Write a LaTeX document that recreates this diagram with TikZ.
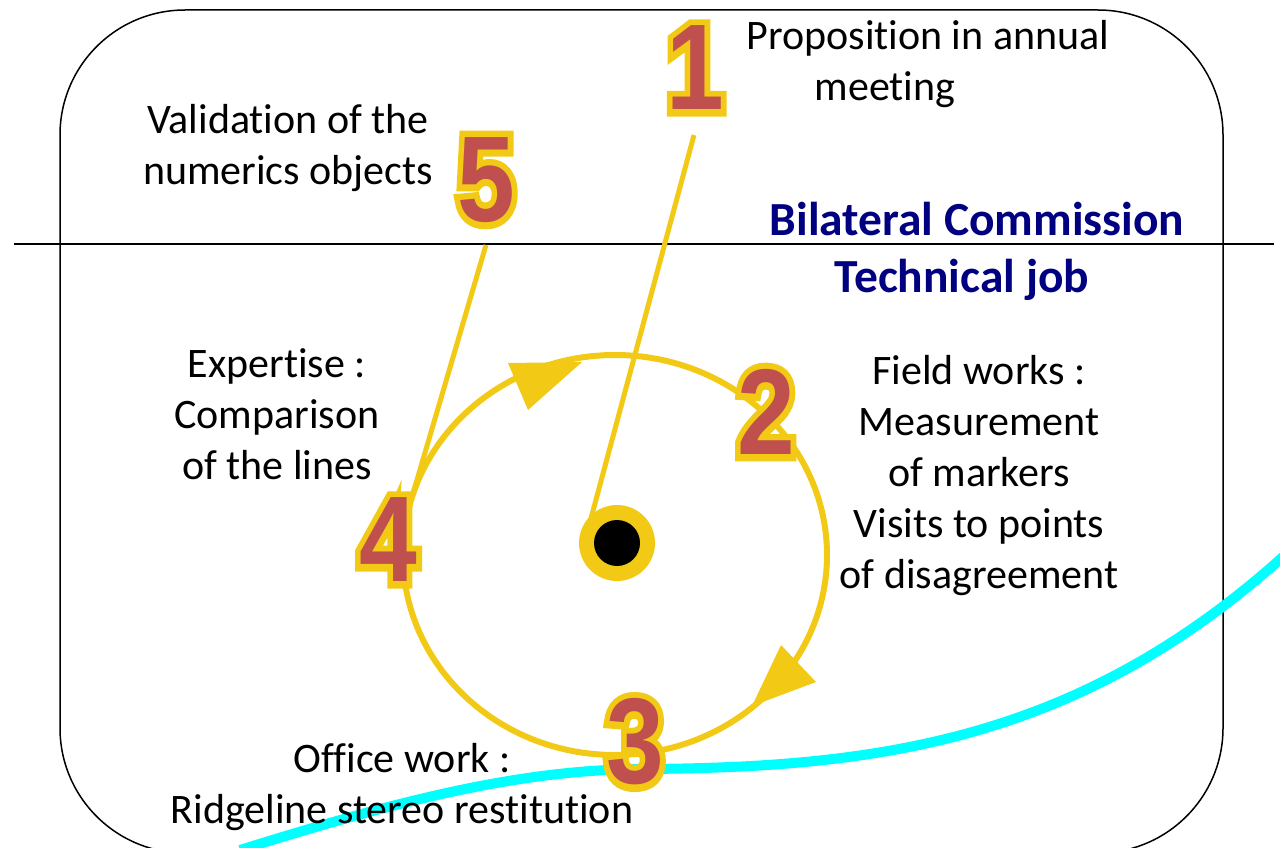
\documentclass[tikz,border=0pt]{standalone}
\usepackage{fontspec}
\setmainfont{Carlito}[Ligatures=NoCommon]
\newfontfamily\numfont{Liberation Sans Bold}
\newfontfamily\numoutline{Liberation Sans Bold}[FakeBold=11]
\usetikzlibrary{arrows.meta}
\definecolor{ylw}{RGB}{242,202,22}
\definecolor{numred}{RGB}{192,80,77}
\definecolor{navyblue}{RGB}{0,0,128}
\definecolor{cyanline}{RGB}{0,255,255}
\newcommand\bignum[3]{%
  \node[numtxt,font=\numoutline\fontsize{122}{122}\selectfont,text=ylw] (#1o) at (#2) {#3};
  \node[numtxt,text=numred] (#1) at (#2) {#3};
}
\begin{document}
\begin{tikzpicture}[x=1pt,y=-1pt,
  lbl/.style={font=\fontsize{42}{51}\selectfont, align=center, inner sep=0pt},
  hdr/.style={font=\fontsize{47.5}{52}\selectfont\bfseries, text=navyblue, inner sep=0pt},
  numtxt/.style={font=\numfont\fontsize{122}{122}\selectfont, inner sep=0pt, xscale=0.85},
  yl/.style={draw=ylw, line width=5pt}]
\useasboundingbox (0,0) rectangle (1280,848);
\begin{scope}
  \clip (0,0) rectangle (1280,848);
  \draw[line width=1.5pt, rounded corners=125pt] (60,10) rectangle (1223,853);
  \draw[cyanline, line width=10pt] (240,850) .. controls (400,800) and (520,770) .. (640,769)
        .. controls (880,768) and (1080,740) .. (1285,555);
\end{scope}
\draw[line width=1.5pt] (14,244) -- (1274,244);

% yellow cycle
\draw[yl, line width=6pt] (615,555) ellipse [x radius=212, y radius=200];
\fill[ylw] (508,363) -- (528,410) -- (582,362) -- cycle;
\fill[ylw] (781,645) -- (816,682) -- (752,706) -- cycle;

\coordinate (p1) at (694,135);
\coordinate (p1e) at (590,522);
\coordinate (p5) at (486,245);
\coordinate (p5e) at (412,497);
\draw[yl] (p1) -- (p1e);
\draw[yl] (p5) -- (p5e);

\node[circle, fill=ylw, minimum size=76pt, inner sep=0pt] (dot) at (617,543) {};
\node[circle, fill=black, minimum size=46pt, inner sep=0pt] (dotin) at (dot) {};

\bignum{n1}{695,68}{1}
\bignum{n5}{486,180}{5}
\bignum{n4}{388,540}{4}
\bignum{n3}{635,742}{3}
\bignum{n2}{766,412}{2}

\node[lbl] (t1) at (928,64) {Proposition in annual\\meeting\hspace*{86pt}};
\node[lbl] (t5) at (288,148) {Validation of the\\numerics objects};
\node[hdr] (bc) at (977,219) {Bilateral Commission};
\node[hdr] (tj) at (962,280) {Technical job};
\node[lbl] (t4) at (277,414) {Expertise :\\Comparison\\of the lines};
\node[lbl] (t2) at (979,476) {Field works :\\Measurement\\of markers\\Visits to points\\of disagreement};
\node[lbl] (t3) at (402,787) {Office work :\\Ridgeline stereo restitution};
\end{tikzpicture}
\end{document}
